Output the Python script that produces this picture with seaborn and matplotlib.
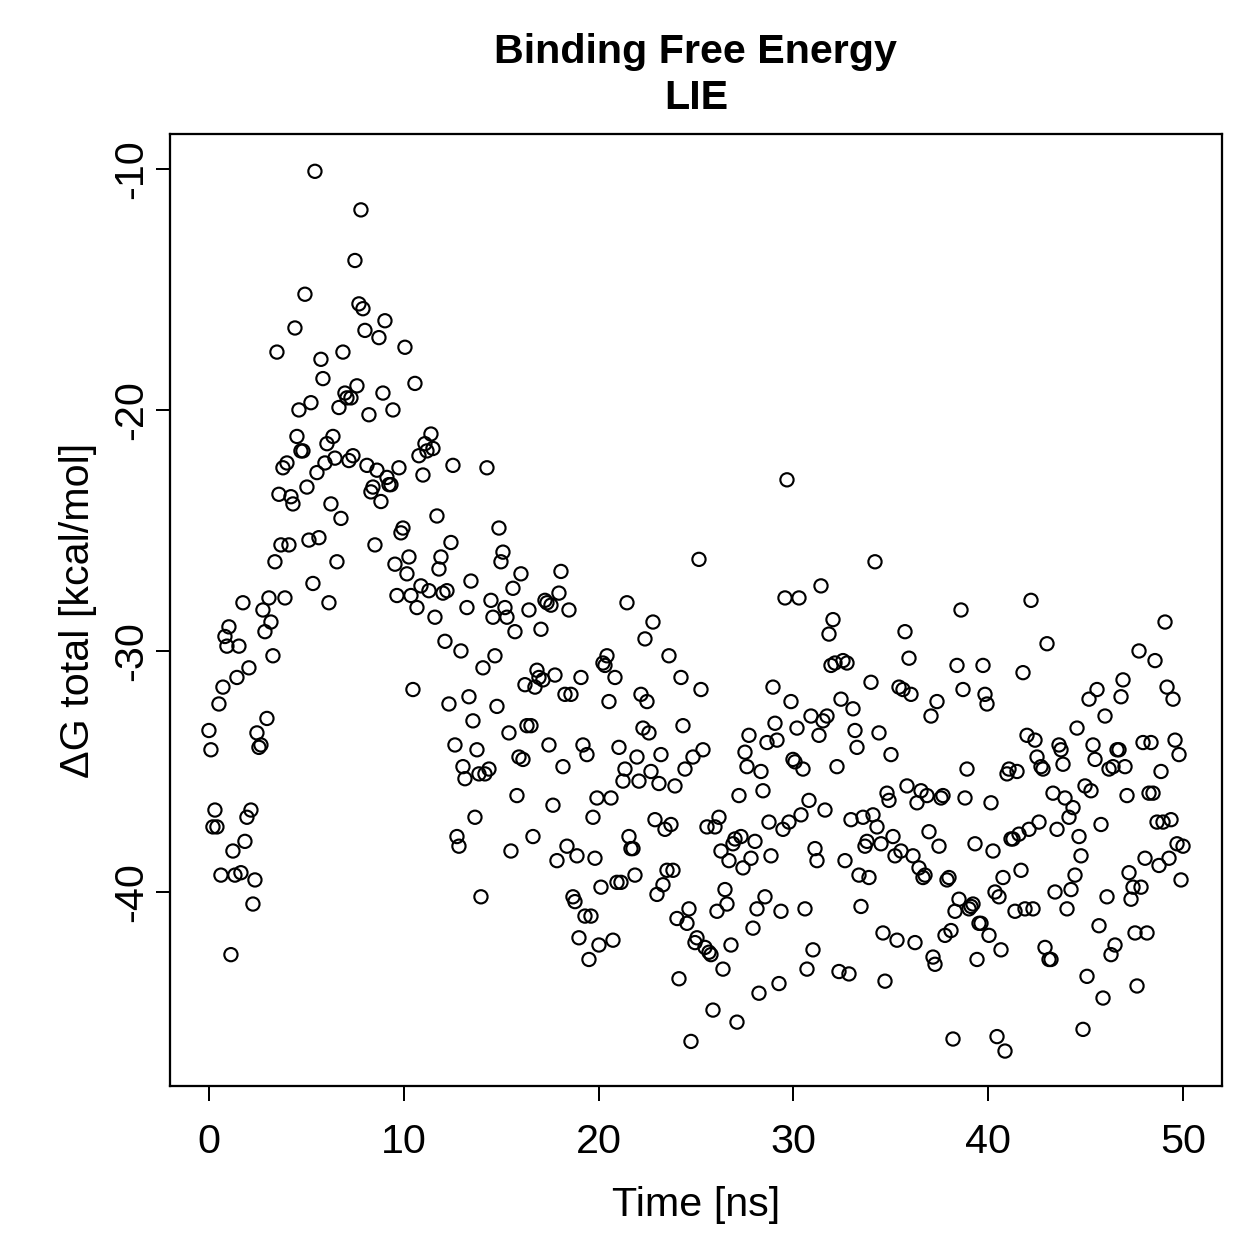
import numpy as np
import pandas as pd
import matplotlib
matplotlib.use("Agg")
import matplotlib.pyplot as plt
import seaborn as sns

# Binding free energy (LIE) per frame, kcal/mol
dG = [
    -33.3, -34.1, -37.3, -36.6, -37.3, -32.2, -39.3, -31.5, -29.4, -29.8,
    -29.0, -42.6, -38.3, -39.3, -31.1, -29.8, -39.2, -28.0, -37.9, -36.9,
    -30.7, -36.6, -40.5, -39.5, -33.4, -34.0, -33.9, -28.3, -29.2, -32.8,
    -27.8, -28.8, -30.2, -26.3, -17.6, -23.5, -25.6, -22.4, -27.8, -22.2,
    -25.6, -23.6, -23.9, -16.6, -21.1, -20.0, -21.7, -21.7, -15.2, -23.2,
    -25.4, -19.7, -27.2, -10.1, -22.6, -25.3, -17.9, -18.7, -22.2, -21.4,
    -28.0, -23.9, -21.1, -22.0, -26.3, -19.9, -24.5, -17.6, -19.3, -19.5,
    -22.1, -19.5, -21.9, -13.8, -19.0, -15.6, -11.7, -15.8, -16.7, -22.3,
    -20.2, -23.4, -23.2, -25.6, -22.5, -17.0, -23.8, -19.3, -16.3, -22.8,
    -23.1, -23.1, -20.0, -26.4, -27.7, -22.4, -25.1, -24.9, -17.4, -26.8,
    -26.1, -27.7, -31.6, -18.9, -28.2, -21.9, -27.3, -22.7, -21.4, -21.7,
    -27.5, -21.0, -21.6, -28.6, -24.4, -26.6, -26.1, -27.6, -29.6, -27.5,
    -32.2, -25.5, -22.3, -33.9, -37.7, -38.1, -30.0, -34.8, -35.3, -28.2,
    -31.9, -27.1, -32.9, -36.9, -34.1, -35.1, -40.2, -30.7, -35.1, -22.4,
    -34.9, -27.9, -28.6, -30.2, -32.3, -24.9, -26.3, -25.9, -28.2, -28.6,
    -33.4, -38.3, -27.4, -29.2, -36.0, -34.4, -26.8, -34.5, -31.4, -33.1,
    -28.3, -33.1, -37.7, -31.5, -30.8, -31.1, -29.1, -31.2, -27.9, -28.0,
    -33.9, -28.1, -36.4, -31.0, -38.7, -27.6, -26.7, -34.8, -31.8, -38.1,
    -28.3, -31.8, -40.2, -40.4, -38.5, -41.9, -31.1, -33.9, -41.0, -34.3,
    -42.8, -41.0,
    -36.9, -38.6, -36.1, -42.2, -39.8, -30.5, -30.6, -30.2, -32.1, -36.1,
    -42.0, -31.1, -39.6, -34.0, -39.6, -35.4, -34.9, -28.0, -37.7, -38.2,
    -38.2, -39.3, -34.4, -35.4, -31.8, -33.2, -29.5, -32.1, -33.4, -35.0,
    -28.8, -37.0, -40.1, -35.5, -34.3, -39.7, -37.4, -39.1, -30.2, -37.2,
    -39.1, -35.6, -41.1, -43.6, -31.1, -33.1, -34.9, -41.3, -40.7, -46.2,
    -34.4, -42.1, -41.9, -26.2, -31.6, -34.1, -42.3, -37.3, -42.5, -42.6,
    -44.9, -37.3, -40.8, -36.9, -38.3, -43.2, -39.9, -40.5, -38.7, -42.2,
    -38.0, -37.8, -45.4, -36.0, -37.7, -39.0, -34.2, -34.8, -33.5, -38.6,
    -41.5, -37.9, -40.7, -44.2, -35.0, -35.8, -40.2, -33.8, -37.1, -38.5,
    -31.5, -33.0, -33.7, -43.8, -40.8, -37.4, -27.8, -22.9, -37.1, -32.1,
    -34.5, -34.6, -33.2, -27.8, -36.8, -34.9, -40.7, -43.2, -36.2, -32.7,
    -42.4, -38.2, -38.7, -33.5, -27.3, -32.9, -36.6, -32.7, -29.3, -30.6,
    -28.7, -30.5, -34.8, -43.3, -32.0, -30.4, -38.7, -30.5, -43.4, -37.0,
    -32.4, -33.3, -34.0, -39.3, -40.6, -36.9, -38.1, -37.9, -39.4, -31.3,
    -36.8, -26.3, -37.3, -33.4, -38.0, -41.7, -43.7, -35.9, -36.2, -34.3,
    -37.7, -38.5, -42.0, -31.5, -38.3, -31.6, -29.2, -35.6, -30.3, -31.8,
    -38.5, -42.1, -36.3, -39.0, -35.8, -39.4, -39.3, -36.0, -37.5, -32.7,
    -42.7, -43.0, -32.1, -38.1, -36.1, -36.0, -41.8, -39.5, -39.4, -41.6,
    -46.1, -40.8, -30.6, -40.3, -28.3, -31.6, -36.1, -34.9, -40.7, -40.6,
    -40.5, -38.0, -42.8, -41.3, -41.3, -30.6, -31.8, -32.2, -41.8, -36.3,
    -38.3, -40.0, -46.0, -40.2, -42.4, -39.4, -46.6, -35.1, -34.9, -37.8,
    -37.8, -40.8, -35.0, -37.6, -39.1, -30.9, -40.7, -33.5, -37.4, -27.9,
    -40.7, -33.7, -34.4, -37.1, -34.8, -34.9, -42.3, -29.7, -42.8, -42.8,
    -35.9, -40.0, -37.4, -33.9, -34.1, -34.7, -36.1, -40.7, -36.9, -39.9,
    -36.5, -39.3, -33.2, -37.7, -38.5, -45.7, -35.6, -43.5, -32.0, -35.8,
    -33.9, -34.5, -31.6, -41.4, -37.2, -44.4, -32.7, -40.2, -34.9, -42.6,
    -34.8, -42.2, -34.1, -34.1, -31.9, -31.2, -34.8, -36.0, -39.2, -40.3,
    -39.8, -41.7, -43.9, -30.0, -39.8, -33.8, -38.6, -41.7, -35.9, -33.8,
    -35.9, -30.4, -37.1, -38.9, -35.0, -37.1, -28.8, -31.5, -38.6, -37.0,
    -32.0, -33.7, -38.0, -34.3, -39.5, -38.1,
]

# Trajectory time span (ns); frames are equally spaced over it
t_start, t_end = 0.0, 50.0
time_ns = np.linspace(t_start, t_end, len(dG))

x_ticks = [0, 10, 20, 30, 40, 50]
y_ticks = [-10, -20, -30, -40]

df = pd.DataFrame({"time": time_ns, "dG": dG})

sns.set_style("ticks")
plt.rcParams["font.family"] = ["Liberation Sans", "DejaVu Sans"]
plt.rcParams["text.color"] = "black"
plt.rcParams["axes.labelcolor"] = "black"
plt.rcParams["xtick.color"] = "black"
plt.rcParams["ytick.color"] = "black"

FS = 16.5
W = 1259
fig = plt.figure(figsize=(W / 180, W / 180), dpi=180)
ax = fig.add_axes([0.135, 0.1374, 0.8356, 0.7562])

sns.scatterplot(data=df, x="time", y="dG", ax=ax, marker="o", s=28,
                facecolors="none", edgecolor="black", linewidth=0.85,
                legend=False)

ax.set_xlim(-2.0, 52.0)
ax.set_ylim(-48.05, -8.55)
ax.set_xticks(x_ticks)
ax.set_yticks(y_ticks)
ax.set_xticklabels([str(v) for v in x_ticks])
ax.set_yticklabels([str(v) for v in y_ticks])
for lab in ax.get_yticklabels():
    lab.set_rotation(90)
    lab.set_va("center")
ax.tick_params(axis="both", direction="out", length=5.8, width=0.8,
               labelsize=FS, color="black", labelcolor="black")
ax.tick_params(axis="x", pad=9)
ax.tick_params(axis="y", pad=2)
for sp in ax.spines.values():
    sp.set_visible(True)
    sp.set_linewidth(0.9)
    sp.set_color("black")

ax.set_xlabel("Time [ns]", fontsize=FS, labelpad=10)
ax.set_ylabel("ΔG total [kcal/mol]", fontsize=FS, labelpad=6)
ax.set_title("Binding Free Energy\nLIE", fontsize=FS, fontweight="bold",
             pad=10, linespacing=1.28, color="black")

fig.savefig("out.png", dpi=180, facecolor="white")
